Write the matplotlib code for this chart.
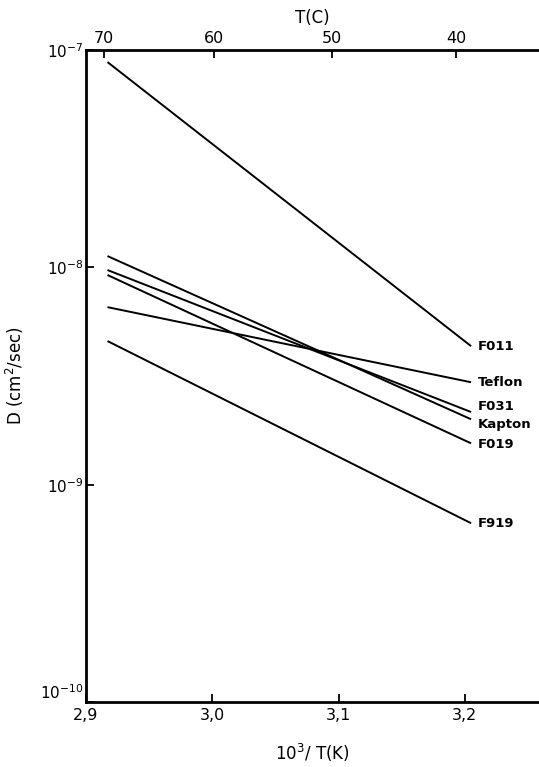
import matplotlib
matplotlib.use("Agg")
import matplotlib.pyplot as plt
import numpy as np

# inverse temperature, 10^3/T(K), at the two ends of each fitted line
inv_t = [2.917, 3.205]

films = ["F011", "Teflon", "F031", "Kapton", "F019", "F919"]
d_start = [8.8e-8, 6.56e-9, 9.72e-9, 1.127e-8, 9.22e-9, 4.58e-9]
d_end = [4.34e-9, 2.96e-9, 2.16e-9, 2.0e-9, 1.55e-9, 6.65e-10]

temp_ticks = [70, 60, 50, 40]
x_ticks = [2.9, 3.0, 3.1, 3.2]
x_ticklabels = ["2,9", "3,0", "3,1", "3,2"]
y_ticks = [1e-10, 1e-9, 1e-8, 1e-7]
y_ticklabels = [r"$10^{-10}$", r"$10^{-9}$", r"$10^{-8}$", r"$10^{-7}$"]

# vertical nudge (points) of each label relative to its line end
label_dy = [0, 0, 4, -4, -1, 0]

plt.rcParams["font.family"] = "DejaVu Sans"
plt.rcParams["mathtext.fontset"] = "dejavusans"

fig = plt.figure(figsize=(5.39, 7.67), dpi=100)
ax = fig.add_axes([0.1596, 0.0847, 0.8404, 0.8501])

for name, y0, y1, dy in zip(films, d_start, d_end, label_dy):
    ax.plot(inv_t, [y0, y1], color="black", lw=1.4, solid_capstyle="butt")
    ax.annotate(name, (inv_t[1], y1), xytext=(5, dy), textcoords="offset points",
                ha="left", va="center", fontsize=9.5, fontweight="bold")

ax.set_yscale("log")
ax.set_ylim(1e-10, 1e-7)
ax.set_xlim(2.9, 3.2588)

ax.set_xticks(x_ticks)
ax.set_xticklabels(x_ticklabels, fontsize=11.5)
ax.set_yticks(y_ticks)
ax.set_yticklabels(y_ticklabels, fontsize=11)
ax.yaxis.set_minor_locator(matplotlib.ticker.NullLocator())
ax.tick_params(axis="both", direction="in", length=6, width=1.3, pad=4)
ax.tick_params(axis="y", pad=2)
# lowest decade label sits just above the bottom spine, as in the original
ax.get_yticklabels()[0].set_verticalalignment("bottom")

for side in ("left", "bottom", "top"):
    ax.spines[side].set_linewidth(2)
ax.spines["right"].set_visible(False)

ax.set_xlabel(r"$10^3$/ T(K)", fontsize=12, labelpad=14)
ax.set_ylabel(r"D (cm$^2$/sec)", fontsize=12, labelpad=10)

top = ax.secondary_xaxis("top", functions=(lambda x: 1000.0 / np.asarray(x) - 273.15,
                                           lambda t: 1000.0 / (np.asarray(t) + 273.15)))
top.set_xticks(temp_ticks)
top.set_xticklabels([str(t) for t in temp_ticks], fontsize=11.5)
top.tick_params(direction="in", length=6, width=1.3, pad=3)
top.spines["top"].set_visible(False)
top.set_xlabel("T(C)", fontsize=12, labelpad=6)

fig.savefig("out.png", dpi=100)
